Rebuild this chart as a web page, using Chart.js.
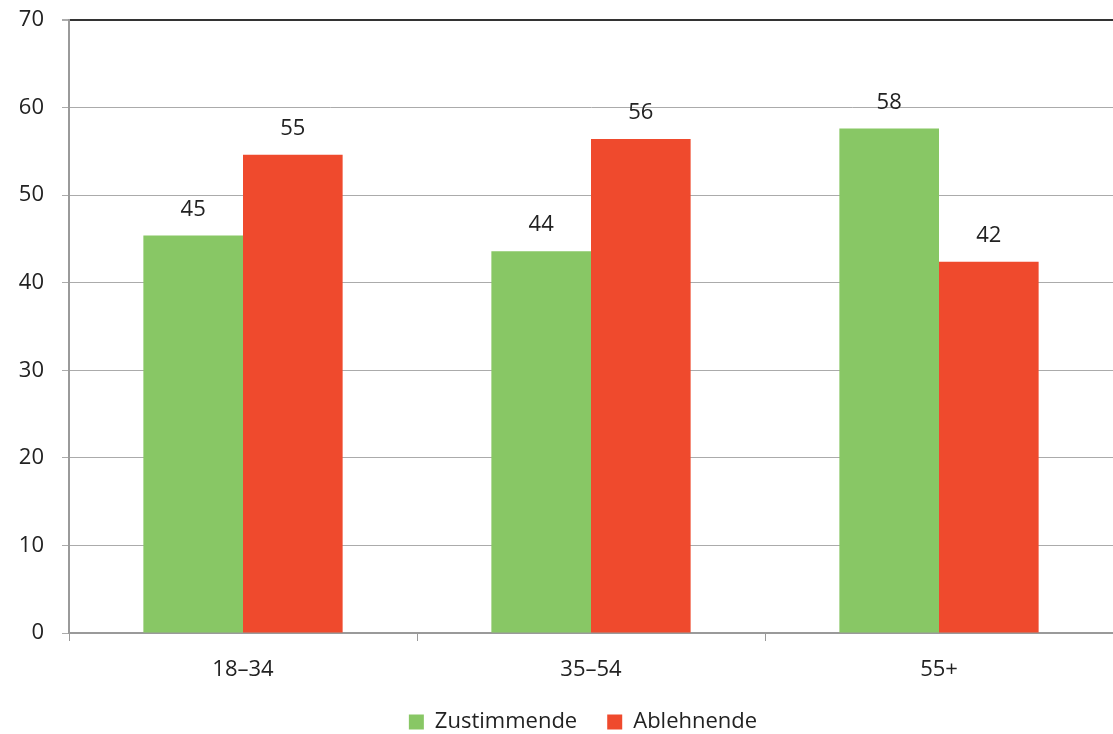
<!DOCTYPE html>
<html>
<head>
<meta charset="utf-8">
<script src="https://cdn.jsdelivr.net/npm/chart.js@4/dist/chart.umd.min.js"></script>
<style>
  html, body { margin: 0; padding: 0; background: #fff; }
  #wrap { width: 1113px; height: 734px; }
</style>
</head>
<body>
<div id="wrap"><canvas id="c" width="1113" height="734"></canvas></div>
<script>
// Age groups and the share (%) agreeing / disagreeing in each
const categories = ['18–34', '35–54', '55+'];
const zustimmende = [45.4, 43.6, 57.6];
const ablehnende  = [54.6, 56.4, 42.4];
const seriesNames = ['Zustimmende', 'Ablehnende'];
const yTicks = [0, 10, 20, 30, 40, 50, 60, 70];

const FONT = '"Open Sans", "Noto Sans", sans-serif';
const TEXT = '#222';

// Draws the rounded value above every bar
const valueLabels = {
  id: 'valueLabels',
  afterDatasetsDraw(chart) {
    const ctx = chart.ctx;
    ctx.save();
    ctx.font = '22px ' + FONT;
    ctx.fillStyle = TEXT;
    ctx.textAlign = 'center';
    ctx.textBaseline = 'middle';
    chart.data.datasets.forEach((ds, i) => {
      chart.getDatasetMeta(i).data.forEach((bar, j) => {
        ctx.fillText(String(Math.round(ds.data[j])), bar.x, bar.y - 26);
      });
    });
    ctx.restore();
  }
};

// Centre the legend under the plot area rather than the whole canvas
const legendShift = {
  id: 'legendShift',
  afterLayout(chart) {
    const lg = chart.legend;
    if (!lg) return;
    const dx = 25;
    lg.left += dx;
    lg.right += dx;
  }
};

new Chart(document.getElementById('c'), {
  type: 'bar',
  data: {
    labels: categories,
    datasets: [
      { label: seriesNames[0], data: zustimmende, backgroundColor: '#88C765' },
      { label: seriesNames[1], data: ablehnende, backgroundColor: '#EF4A2D' }
    ]
  },
  options: {
    responsive: false,
    animation: false,
    devicePixelRatio: 1,
    categoryPercentage: 0.5726,
    barPercentage: 1.0,
    layout: { padding: { left: 0, right: -3, top: 20, bottom: 0 } },
    plugins: {
      tooltip: { enabled: false },
      legend: {
        position: 'bottom',
        maxHeight: 53,
        labels: {
          font: { family: FONT, size: 22 },
          color: TEXT,
          boxWidth: 15,
          boxHeight: 15,
          padding: 30
        }
      }
    },
    scales: {
      y: {
        min: 0,
        max: 70,
        afterBuildTicks(scale) { scale.ticks = yTicks.map(v => ({ value: v })); },
        afterFit(scale) {
          scale.width = 69;
          scale.paddingTop = 0;
          scale.paddingBottom = 0;
        },
        ticks: { font: { family: FONT, size: 22 }, color: TEXT, padding: 18 },
        grid: {
          color: ctx => (ctx.tick && ctx.tick.value === 70) ? '#333' : '#ababab',
          lineWidth: ctx => (ctx.tick && ctx.tick.value === 70) ? 2 : 1,
          tickLength: 7,
          tickColor: '#ababab'
        },
        border: { color: '#9a9a9a', width: 2 }
      },
      x: {
        afterFit(scale) { scale.height = 48; },
        ticks: { font: { family: FONT, size: 22 }, color: TEXT, padding: 16 },
        grid: {
          offset: true,
          drawOnChartArea: false,
          tickLength: 8,
          color: '#9a9a9a',
          lineWidth: 1
        },
        border: { color: '#9a9a9a', width: 2 }
      }
    }
  },
  plugins: [valueLabels, legendShift]
});
</script>
</body>
</html>
